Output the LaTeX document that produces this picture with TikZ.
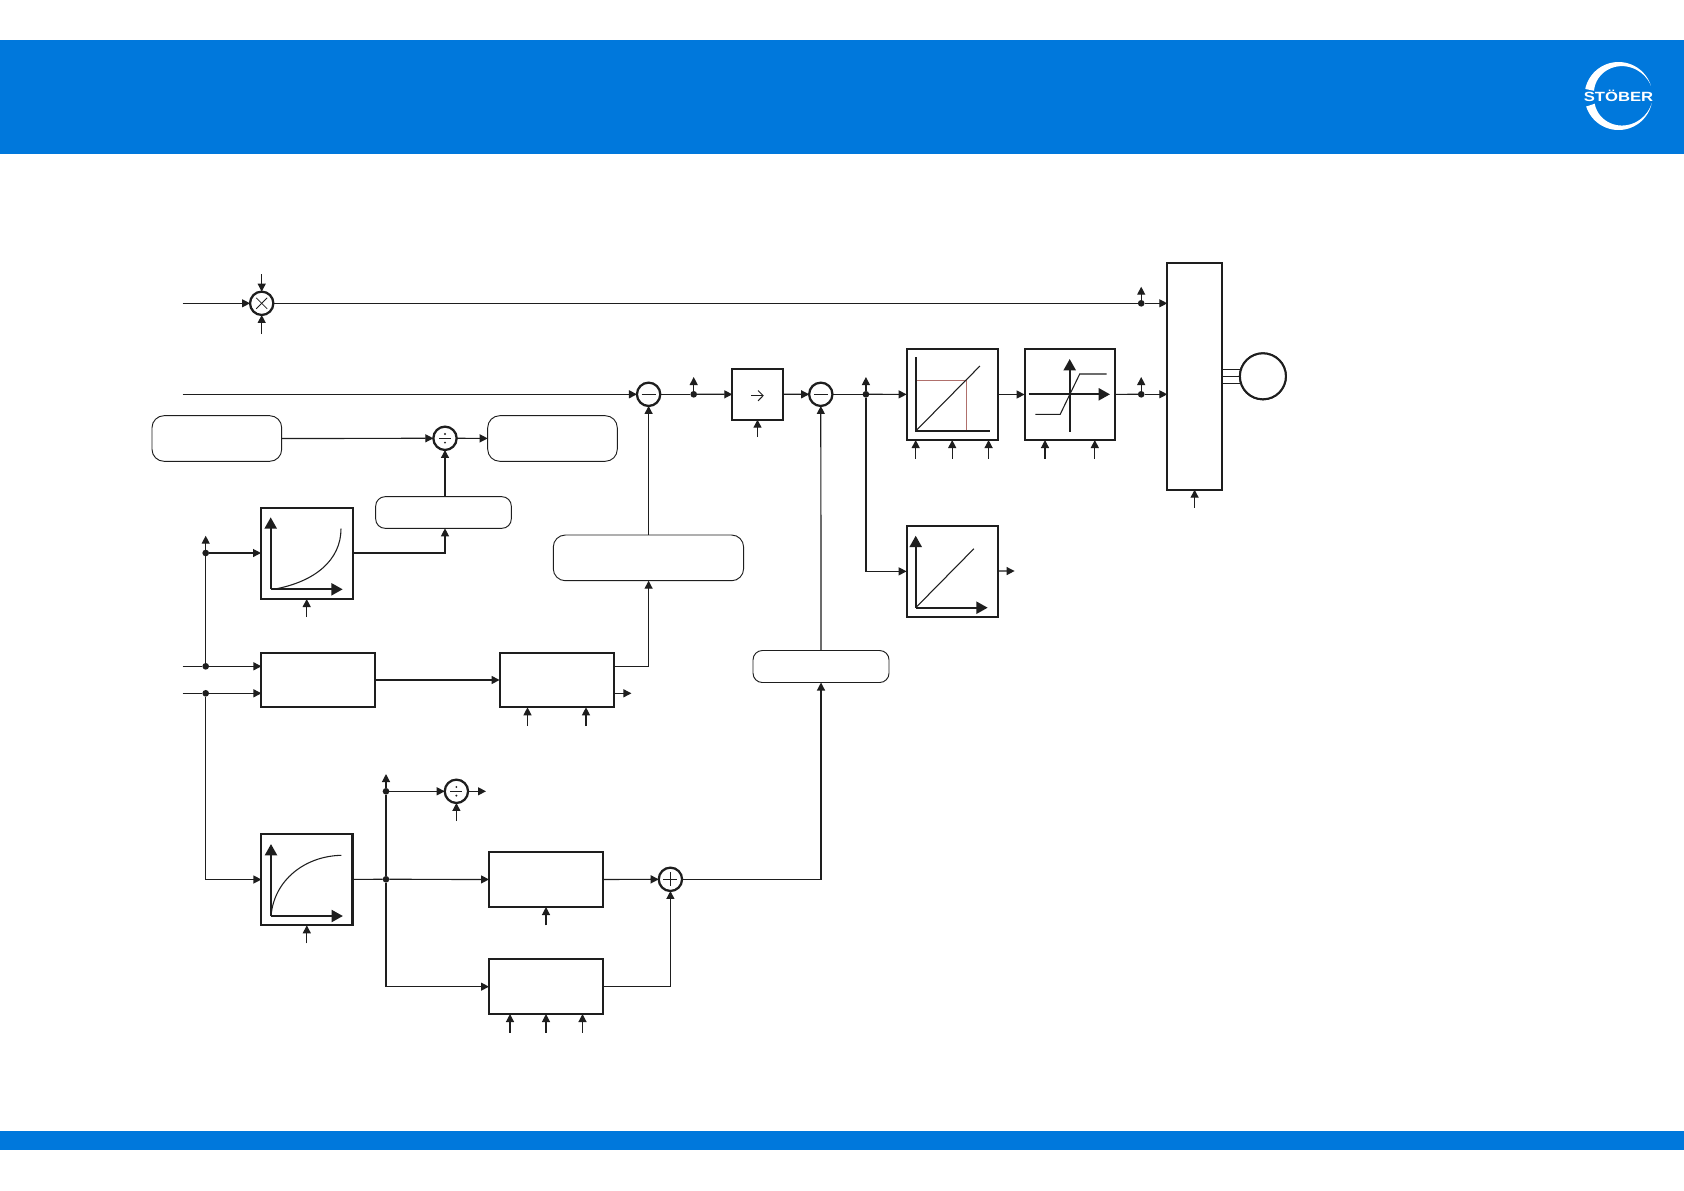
\documentclass[tikz,border=0pt]{standalone}
\usepackage{fontspec}
\setmainfont{Liberation Sans}
\usetikzlibrary{arrows.meta,calc}
\definecolor{stoblue}{HTML}{0078DC}
\definecolor{ink}{HTML}{1E1E1E}
\definecolor{redline}{HTML}{B0706C}
\tikzset{
  conn/.style={draw=ink,line width=0.9pt,-{Triangle[length=6pt,width=6pt]}},
  plain/.style={draw=ink,line width=0.9pt},
  tap/.style={draw=ink,line width=0.9pt,-{Triangle[length=6pt,width=6pt]}},
  axisln/.style={draw=ink,line width=1.6pt,-{Triangle[length=8.5pt,width=9pt]}},
  axisplain/.style={draw=ink,line width=1.6pt},
  curveln/.style={draw=ink,line width=0.8pt},
  blockbox/.style={draw=ink,line width=1.6pt,fill=white,inner sep=0pt,outer sep=0pt},
  softbox/.style={draw=ink,line width=0.7pt,fill=white,inner sep=0pt,outer sep=0pt,rounded corners=9pt},
  softsmall/.style={draw=ink,line width=0.7pt,fill=white,inner sep=0pt,outer sep=0pt,rounded corners=7pt},
  junction/.style={circle,draw=ink,line width=1.7pt,fill=white,minimum size=17.5pt,inner sep=0pt,outer sep=0pt},
  dotnode/.style={circle,fill=ink,minimum size=5pt,inner sep=0pt,outer sep=0pt},
  motor/.style={circle,draw=ink,line width=1.5pt,fill=white,minimum size=34.5pt,inner sep=0pt,outer sep=0pt},
  sym/.style={draw=ink,line width=0.6pt},
}
\newcommand{\rectnode}[6]{% style, name, x1, y1, x2, y2
  \node[#1,minimum width={(#5-#3)*0.75pt},minimum height={(#6-#4)*0.75pt}] (#2) at ({(#3+#5)/2},{(#4+#6)/2}) {};}
\begin{document}
\begin{tikzpicture}[x=0.75pt,y=-0.75pt]
\useasboundingbox (0,0) rectangle (1684,1190);
\fill[white] (0,0) rectangle (1684,1190);
% bands
\fill[stoblue] (0,39.5) rectangle (1684,153.5);
\fill[stoblue] (0,1131) rectangle (1684,1149.5);
% logo
\fill[white] plot[domain=18:168,samples=50] ({1618.5+34*cos(\x)},{96-34*sin(\x)})
  -- plot[domain=168:18,samples=50] ({1618.5+(34-9*(\x-18)/150)*cos(\x)},{96-(34-9*(\x-18)/150)*sin(\x)}) -- cycle;
\fill[white] plot[domain=198:348,samples=50] ({1618.5+34*cos(\x)},{96-34*sin(\x)})
  -- plot[domain=348:198,samples=50] ({1618.5+(34-9*(348-\x)/150)*cos(\x)},{96-(34-9*(348-\x)/150)*sin(\x)}) -- cycle;
\node[text=white,font=\bfseries\fontsize{10pt}{10pt}\selectfont,inner sep=0pt,xscale=1.25] (logotext) at (1618.5,96) {STÖBER};

% blocks
\rectnode{blockbox}{out}{1167.3}{262.7}{1221.9}{489.7}
\rectnode{blockbox}{curveA}{261}{507.7}{352.7}{599}
\rectnode{blockbox}{arrowbox}{732.3}{369}{782.6}{419.7}
\rectnode{blockbox}{boxA}{906.6}{349}{997.7}{440}
\rectnode{blockbox}{boxB}{1024.6}{349}{1115.2}{440}
\rectnode{blockbox}{boxC}{906.6}{525.7}{997.7}{617}
\rectnode{blockbox}{boxD}{261.4}{652.7}{375.4}{707.3}
\rectnode{blockbox}{boxE}{499.6}{652.7}{614}{707.3}
\rectnode{blockbox}{curveF}{261.4}{833.7}{352.5}{925.3}
\rectnode{blockbox}{boxG}{489}{852}{603.2}{907}
\rectnode{blockbox}{boxH}{489}{959.3}{603.2}{1014}
% soft boxes
\rectnode{softbox}{softA}{152}{415.7}{281.7}{461.3}
\rectnode{softbox}{softB}{487.7}{415.7}{617.3}{461.3}
\rectnode{softsmall}{softC}{375.7}{496.7}{511.3}{528.3}
\rectnode{softbox}{softD}{553.3}{535}{743.6}{580.7}
\rectnode{softsmall}{softE}{753}{650.5}{889}{682.5}
% junctions
\node[junction] (mul) at (261.7,303.3) {};
\node[junction] (minA) at (648.6,394.3) {};
\node[junction] (minB) at (820.8,394.3) {};
\node[junction] (divA) at (445,438.3) {};
\node[junction] (divB) at (456.4,791.3) {};
\node[junction] (plus) at (670.4,879.3) {};
\node[motor] (mot) at (1262.9,376.3) {};
% dots
\node[dotnode] (dTop) at (1141.2,303.3) {};
\node[dotnode] (dOut) at (1141.2,394.3) {};
\node[dotnode] (dA) at (693.7,394.3) {};
\node[dotnode] (dB) at (865.9,394.3) {};
\node[dotnode] (dC) at (205.7,553) {};
\node[dotnode] (dD) at (205.7,666.3) {};
\node[dotnode] (dE) at (205.7,693.3) {};
\node[dotnode] (dF) at (386,879.3) {};
\node[dotnode] (dG) at (386,791.3) {};
% free ends
\coordinate (inMul) at (182.7,303.3);
\coordinate (mulT) at (261.7,274);
\coordinate (mulB) at (261.7,334);
\coordinate (inLine) at (182.7,394.3);
\coordinate (inD) at (182.7,666.3);
\coordinate (inE) at (182.7,693.3);
\coordinate (upTop) at (1141.2,286.7);
\coordinate (upOut) at (1141.2,377);
\coordinate (upA) at (693.7,377);
\coordinate (upB) at (865.9,377);
\coordinate (upC) at (205.7,535.7);
\coordinate (upG) at (386,774);
\coordinate (tipDivB) at (486,791.3);
\coordinate (tipE) at (631.4,693.3);
\coordinate (tipC) at (1014.6,571);
\coordinate (feedOut) at (1194.6,507.7);
\coordinate (feedBox) at (757.5,437);
\coordinate (feedA1) at (915.7,458.7);
\coordinate (feedA2) at (952.2,458.7);
\coordinate (feedA3) at (988.6,458.7);
\coordinate (feedB1) at (1045,458.7);
\coordinate (feedB2) at (1094.8,458.7);
\coordinate (feedCurveA) at (306.7,617);
\coordinate (feedCurveF) at (306.8,943.3);
\coordinate (feedE1) at (527.5,726);
\coordinate (feedE2) at (586,726);
\coordinate (feedDivB) at (456.4,821);
\coordinate (feedG) at (546,925.3);
\coordinate (feedH1) at (510,1032.7);
\coordinate (feedH2) at (546,1032.7);
\coordinate (feedH3) at (582.5,1032.7);

% first row
\draw[conn] (inMul) -- (mul);
\draw[conn] (mulT) -- (mul);
\draw[conn] (mulB) -- (mul);
\draw[plain] (mul) -- (dTop);
\draw[tap] (dTop) -- (upTop);
\draw[conn] (dTop) -- (dTop -| out.west);
% second row
\draw[conn] (inLine) -- (minA);
\draw[plain] (minA) -- (dA);
\draw[tap] (dA) -- (upA);
\draw[conn] (dA) -- (arrowbox);
\draw[conn] (arrowbox) -- (minB);
\draw[plain] (minB) -- (dB);
\draw[tap] (dB) -- (upB);
\draw[conn] (dB) -- (boxA);
\draw[conn] (boxA) -- (boxB);
\draw[plain] (boxB) -- (dOut);
\draw[tap] (dOut) -- (upOut);
\draw[conn] (dOut) -- (dOut -| out.west);
\draw[conn] (dB) |- (boxC);
\draw[conn] (boxC) -- (tipC);
% motor leads
\draw[plain] (out.east |- 0,369.3) -- (mot.center |- 0,369.3);
\draw[plain] (out.east |- 0,376.3) -- (mot.center |- 0,376.3);
\draw[plain] (out.east |- 0,383.3) -- (mot.center |- 0,383.3);
\node[motor] (motTop) at (mot) {};
% feeds under blocks
\draw[conn] (feedOut) -- (feedOut |- out.south);
\draw[conn] (feedBox) -- (feedBox |- arrowbox.south);
\draw[conn] (feedA1) -- (feedA1 |- boxA.south);
\draw[conn] (feedA2) -- (feedA2 |- boxA.south);
\draw[conn] (feedA3) -- (feedA3 |- boxA.south);
\draw[conn] (feedB1) -- (feedB1 |- boxB.south);
\draw[conn] (feedB2) -- (feedB2 |- boxB.south);
\draw[conn] (feedCurveA) -- (feedCurveA |- curveA.south);
\draw[conn] (feedCurveF) -- (feedCurveF |- curveF.south);
\draw[conn] (feedE1) -- (feedE1 |- boxE.south);
\draw[conn] (feedE2) -- (feedE2 |- boxE.south);
\draw[conn] (feedDivB) -- (divB);
\draw[conn] (feedG) -- (feedG |- boxG.south);
\draw[conn] (feedH1) -- (feedH1 |- boxH.south);
\draw[conn] (feedH2) -- (feedH2 |- boxH.south);
\draw[conn] (feedH3) -- (feedH3 |- boxH.south);
% soft box row
\draw[conn] (softA) -- (divA);
\draw[conn] (divA) -- (softB);
\draw[conn] (softC.north -| divA) -- (divA);
% left bus
\draw[plain] (dC) -- (dD);
\draw[tap] (dC) -- (upC);
\draw[conn] (dC) -- (dC -| curveA.west);
\draw[conn] (curveA.east |- dC) -| (divA |- softC.south);
\draw[plain] (inD) -- (dD);
\draw[conn] (dD) -- (dD -| boxD.west);
\draw[plain] (inE) -- (dE);
\draw[conn] (dE) -- (dE -| boxD.west);
\draw[conn] (dE) |- (curveF);
\draw[conn] (boxD) -- (boxE);
\draw[conn] (boxE.east |- dD) -| (minA |- softD.south);
\draw[conn] (minA |- softD.north) -- (minA);
\draw[conn] (boxE.east |- dE) -- (tipE);
% lower branch
\draw[plain] (curveF) -- (dF);
\draw[plain] (dF) -- (dG);
\draw[tap] (dG) -- (upG);
\draw[conn] (dG) -- (divB);
\draw[conn] (divB) -- (tipDivB);
\draw[conn] (dF) -- (boxG);
\draw[conn] (dF) |- (boxH);
\draw[conn] (boxG) -- (plus);
\draw[conn] (boxH) -| (plus);
\draw[conn] (plus) -| (softE);
\draw[conn] (softE) -- (minB);

% junction symbols
\draw[sym] ($(mul)+(-5.5,-5.5)$) -- ($(mul)+(5.5,5.5)$);
\draw[sym] ($(mul)+(-5.5,5.5)$) -- ($(mul)+(5.5,-5.5)$);
\draw[sym] ($(minA)+(-7,0)$) -- ($(minA)+(7,0)$);
\draw[sym] ($(minB)+(-7,0)$) -- ($(minB)+(7,0)$);
\draw[sym] ($(plus)+(-7,0)$) -- ($(plus)+(7,0)$);
\draw[sym] ($(plus)+(0,-7)$) -- ($(plus)+(0,7)$);
\foreach \jn in {divA,divB}{
  \draw[sym] ($(\jn)+(-6,0)$) -- ($(\jn)+(6,0)$);
  \fill[ink] ($(\jn)+(0,-4.3)$) circle (0.8pt);
  \fill[ink] ($(\jn)+(0,4.3)$) circle (0.8pt);
}
% arrow in small box
\draw[draw=ink,line width=0.7pt] (751.4,395.7) -- (763.1,395.7);
\draw[draw=ink,line width=0.7pt] (758,390.5) -- (763.1,395.7) -- (758,400.9);
% graph: curve A
\draw[axisln] (270.7,589.3) -- (270.7,517.3);
\draw[axisln] (270.7,589.3) -- (342.7,589.3);
\draw[curveln] (273.3,589.3) .. controls (315,582) and (341,560) .. (341,528.7);
% graph: box A
\draw[draw=redline,line width=0.55pt] (915.7,380) -- (966,380) -- (966,431);
\draw[axisplain] (915.7,357.3) -- (915.7,431) -- (989.5,431);
\draw[curveln] (915.7,431) -- (979.9,366);
% graph: box B
\draw[axisln] (1069.7,431.7) -- (1069.7,359);
\draw[axisln] (1028.5,394.3) -- (1110,394.3);
\draw[curveln] (1035.4,414.3) -- (1060.2,414.3) -- (1079.7,374) -- (1106.6,374);
% graph: box C
\draw[axisln] (915.7,607.7) -- (915.7,535.7);
\draw[axisln] (915.7,607.7) -- (987.7,607.7);
\draw[curveln] (915.7,607.7) -- (973.9,548.7);
% graph: curve F
\draw[axisln] (271,916) -- (271,844);
\draw[axisln] (271,916) -- (342.9,916);
\draw[curveln] (271,916) .. controls (274,880) and (305,856) .. (341.4,855.3);
\end{tikzpicture}
\end{document}
